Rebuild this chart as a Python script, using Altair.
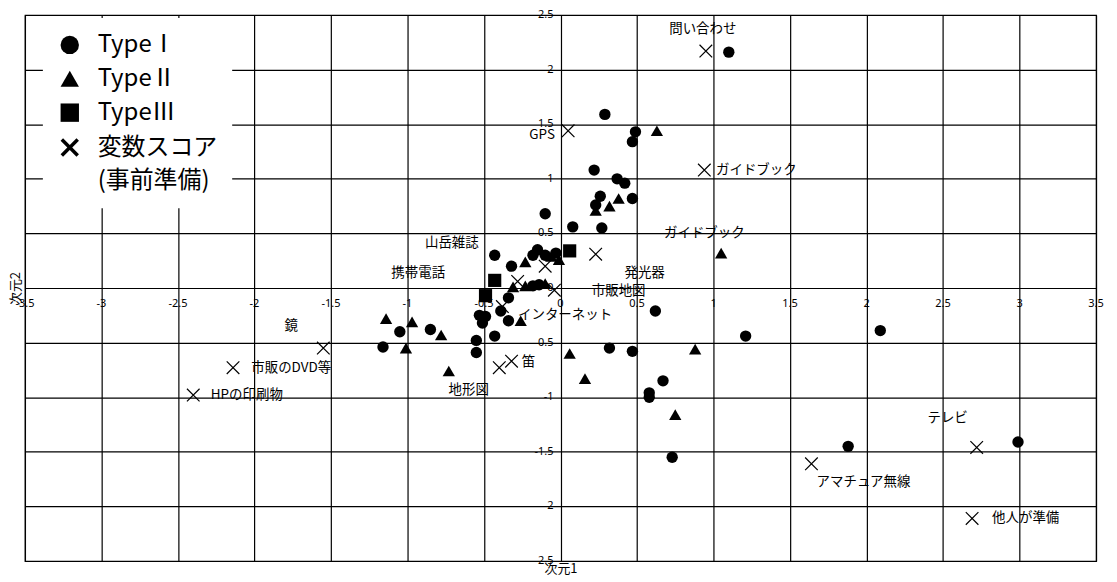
import altair as alt
import pandas as pd

# ---------------- data ----------------
type1_x = [1.10, 0.29, 0.49, 0.47, 0.22, 0.37, 0.42, 0.26, 0.47, 0.23, -0.10, 0.08, 0.27,
           -0.43, -0.32, -0.15, -0.18, -0.10, -0.03, -0.18, -0.14, -0.34, -0.39, -0.53, -0.49,
           -0.51, -0.34, -0.43, -0.55, -0.55, -0.85, -1.05, -1.16, 0.32, 0.47, 0.62, 0.67,
           0.58, 0.58, 0.73, 1.21, 2.09, 1.88, 2.99]
type1_y = [2.16, 1.59, 1.43, 1.34, 1.08, 1.00, 0.96, 0.84, 0.82, 0.76, 0.68, 0.56, 0.55,
           0.30, 0.20, 0.35, 0.30, 0.30, 0.32, 0.02, 0.03, -0.09, -0.21, -0.25, -0.26,
           -0.32, -0.30, -0.44, -0.48, -0.59, -0.38, -0.40, -0.54, -0.55, -0.58, -0.21, -0.85,
           -0.96, -1.00, -1.55, -0.44, -0.39, -1.45, -1.41]

type2_x = [0.63, 0.38, 0.32, 0.23, 1.05, -0.23, -0.06, -0.01, -0.31, -0.23, -0.10, -0.26,
           -0.78, -0.97, -1.14, -1.01, -0.73, 0.06, 0.16, 0.75, 0.88]
type2_y = [1.44, 0.82, 0.75, 0.71, 0.32, 0.24, 0.29, 0.26, 0.01, 0.02, 0.04, -0.30,
           -0.43, -0.31, -0.28, -0.55, -0.76, -0.60, -0.83, -1.16, -0.56]

type3_x = [0.06, -0.43, -0.49]
type3_y = [0.34, 0.07, -0.07]

score_x = [0.95, 0.05, 0.94, 0.23, -0.10, -0.28, -0.04, -0.38, -0.40, -0.32,
           -1.55, -2.14, -2.40, 2.72, 1.64, 2.69]
score_y = [2.17, 1.44, 1.08, 0.31, 0.20, 0.06, -0.02, -0.17, -0.73, -0.67,
           -0.55, -0.73, -0.98, -1.46, -1.61, -2.11]

label_text = ["問い合わせ", "GPS", "ガイドブック", "ガイドブック", "山岳雑誌", "携帯電話", "発光器",
              "市販地図", "インターネット", "笛", "地形図", "鏡", "市販のDVD等", "HPの印刷物",
              "テレビ", "アマチュア無線", "他人が準備"]
label_x = [0.93, -0.12, 1.28, 0.94, -0.71, -0.93, 0.55, 0.38, 0.03, -0.21, -0.60, -1.76,
           -1.76, -2.05, 2.53, 1.98, 3.04]
label_y = [2.37, 1.40, 1.08, 0.50, 0.41, 0.14, 0.14, -0.03, -0.25, -0.68, -0.93, -0.35,
           -0.73, -0.98, -1.19, -1.78, -2.11]

x_tick_values = [-3.5, -3, -2.5, -2, -1.5, -1, -0.5, 0, 0.5, 1, 1.5, 2, 2.5, 3, 3.5]
x_tick_labels = ["-3.5", "-3", "-2.5", "-2", "-1.5", "-1", "-0.5", "0", "0.5", "1", "1.5",
                 "2", "2.5", "3", "3.5"]
y_tick_values = [-2.5, -2, -1.5, -1, -0.5, 0, 0.5, 1, 1.5, 2, 2.5]
y_tick_labels = ["-2.5", "-2", "-1.5", "-1", "-0.5", "0", "0.5", "1", "1.5", "2", "2.5"]

type_names = ["TypeⅠ", "TypeⅡ", "TypeⅢ", "変数スコア", "(事前準備)"]

# ---------------- tables ----------------
rows = []
for xs_, ys_, name in [(type1_x, type1_y, type_names[0]), (type2_x, type2_y, type_names[1]),
                       (type3_x, type3_y, type_names[2])]:
    for a, b in zip(xs_, ys_):
        rows.append({"x": a, "y": b, "type": name, "sz": name})
points = pd.DataFrame(rows)
scores = pd.DataFrame({"x": score_x, "y": score_y})
labels = pd.DataFrame({"x": label_x, "y": label_y, "text": label_text})
xticks = pd.DataFrame({"x": x_tick_values, "y": [0] * len(x_tick_values), "text": x_tick_labels})
yticks = pd.DataFrame({"x": [0] * len(y_tick_values), "y": y_tick_values, "text": y_tick_labels})

JP = "Noto Sans CJK JP"
# thick filled X (legend symbol) and thin stroked X (data marks)
X_THICK = ("M-0.73,-1L0,-0.27L0.73,-1L1,-0.73L0.27,0L1,0.73L0.73,1L0,0.27"
           "L-0.73,1L-1,0.73L-0.27,0L-1,-0.73Z")
X_THIN = "M-1,-1L1,1M1,-1L-1,1"
shape_range = ["circle", "triangle-up", "square", X_THICK, "M0,0"]

xscale = alt.Scale(domain=[-3.5, 3.5], nice=False, zero=False)
yscale = alt.Scale(domain=[-2.5, 2.5], nice=False, zero=False)
xaxis = alt.Axis(values=x_tick_values, grid=True, labels=False, ticks=False, domain=False,
                 title="次元1", titleFont=JP, titleFontSize=13, titleFontWeight="normal",
                 titleColor="black", titlePadding=2)
yaxis = alt.Axis(values=y_tick_values, grid=True, labels=False, ticks=False, domain=False,
                 title="次元2", titleFont=JP, titleFontSize=13, titleFontWeight="normal",
                 titleColor="black", titlePadding=2)

X = alt.X("x:Q", scale=xscale, axis=xaxis)
Y = alt.Y("y:Q", scale=yscale, axis=yaxis)

pts = alt.Chart(points).mark_point(filled=True, color="black", opacity=1).encode(
    x=X, y=Y,
    shape=alt.Shape("type:N", scale=alt.Scale(domain=type_names, range=shape_range),
                    legend=alt.Legend(title=None, orient="none", legendX=18, legendY=3,
                                      fillColor="white", padding=15, labelFont=JP,
                                      labelFontSize=24, labelColor="black", labelLimit=400,
                                      symbolSize=340, symbolFillColor="black",
                                      symbolOpacity=1, rowPadding=9, labelOffset=16)),
    size=alt.Size("sz:N", scale=alt.Scale(domain=type_names[:3], range=[130, 175, 165]),
                  legend=None),
)

xmarks = alt.Chart(scores).mark_point(shape=X_THIN, filled=False, color="black", size=160,
                                      strokeWidth=1.2, opacity=1).encode(x=X, y=Y)

lbl = alt.Chart(labels).mark_text(font=JP, fontSize=13.5, color="black", align="center",
                                  baseline="middle").encode(x=X, y=Y, text="text:N")

xt = alt.Chart(xticks).mark_text(font="Noto Sans", fontSize=11, color="black", align="center",
                                 baseline="middle", dy=16).encode(x=X, y=Y, text="text:N")
yt = alt.Chart(yticks).mark_text(font="Noto Sans", fontSize=11, color="black", align="right",
                                 baseline="middle", dx=-7).encode(x=X, y=Y, text="text:N")

chart = alt.layer(pts, xmarks, lbl, xt, yt).properties(
    width=1075, height=548,
    padding={"left": 2, "top": 0, "right": 5, "bottom": 0},
).configure_view(stroke="black", strokeWidth=1.2).configure_axis(
    gridColor="black", gridWidth=1.2, gridOpacity=1
)

chart.save("out.html", embed_options={"renderer": "svg", "actions": False})
